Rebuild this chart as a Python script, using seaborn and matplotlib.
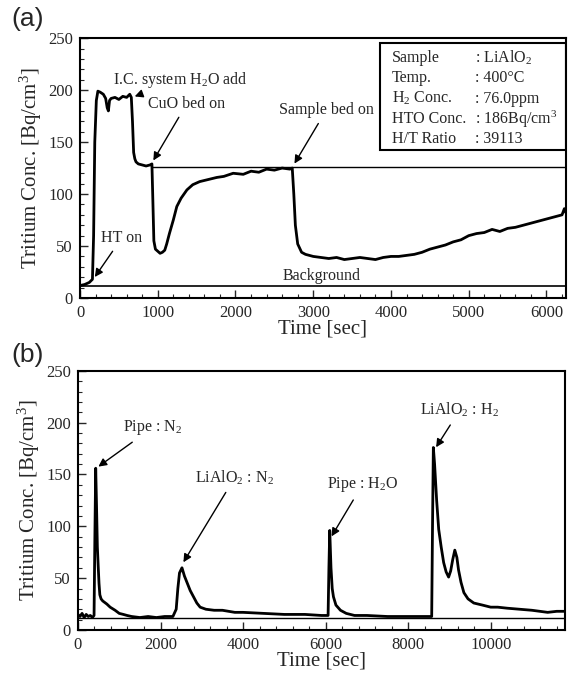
import matplotlib
matplotlib.use('Agg')
import matplotlib.pyplot as plt
from matplotlib.patches import Rectangle
from matplotlib.ticker import MultipleLocator
import seaborn as sns

# (a) tritium trace during the LiAlO2 run
time_a = [0, 60, 120, 160, 175, 190, 210, 230, 260, 300, 330, 350, 365, 380, 400,
          450, 500, 550, 600, 640, 660, 675, 690, 705, 720, 750, 800, 850, 900, 925,
          935, 950, 970, 1000, 1030, 1060, 1090, 1115, 1150, 1200, 1245, 1300, 1375,
          1450, 1540, 1650, 1760, 1850, 1970, 2100, 2200, 2300, 2400, 2500, 2600,
          2700, 2730, 2750, 2770, 2800, 2850, 2900, 3000, 3100, 3200, 3300, 3400,
          3500, 3600, 3700, 3800, 3900, 4000, 4100, 4200, 4300, 4400, 4500, 4600,
          4700, 4800, 4900, 5000, 5100, 5200, 5300, 5400, 5500, 5600, 5700, 5800,
          5900, 6000, 6100, 6200, 6230, 6250]
conc_a = [12, 13, 15, 18, 60, 150, 190, 199, 198, 196, 192, 183, 180, 190, 192,
          193, 191, 194, 193, 196, 193, 170, 140, 134, 131, 129, 128, 127, 128, 129,
          100, 55, 47, 45, 43, 44, 46, 52, 62, 75, 88, 96, 104, 109, 112, 114, 116,
          117, 120, 119, 122, 121, 124, 123, 125, 124, 125, 100, 70, 52, 44, 42, 40,
          39, 38, 39, 37, 38, 39, 38, 37, 39, 40, 40, 41, 42, 44, 47, 49, 51, 54, 56,
          60, 62, 63, 66, 64, 67, 68, 70, 72, 74, 76, 78, 80, 86, 82]
ref_a = 126
background_a = 12

# (b) release peaks
time_b = [0, 50, 100, 150, 200, 250, 300, 350, 390, 410, 430, 450, 470, 490, 510,
          530, 560, 600, 700, 780, 900, 1000, 1100, 1190, 1300, 1500, 1700, 1900,
          2100, 2300, 2380, 2420, 2460, 2520, 2580, 2650, 2720, 2800, 2880, 2960,
          3100, 3300, 3500, 3800, 4000, 4500, 5000, 5500, 5900, 6060, 6080, 6100,
          6130, 6160, 6190, 6250, 6360, 6500, 6700, 7000, 7500, 8000, 8400, 8570,
          8590, 8610, 8640, 8690, 8740, 8800, 8860, 8920, 8980, 9030, 9080, 9130,
          9180, 9220, 9280, 9350, 9450, 9590, 9800, 10000, 10170, 10400, 10700,
          11000, 11380, 11600, 11770]
conc_b = [15, 13, 16, 12, 15, 13, 14, 12, 14, 90, 156, 120, 80, 62, 45, 34, 30,
          28, 25, 22, 19, 16, 15, 14, 13, 12, 13, 12, 13, 13, 20, 40, 55, 60, 52,
          45, 38, 32, 26, 22, 20, 19, 19, 17, 17, 16, 15, 15, 14, 14, 60, 96, 60,
          40, 32, 24, 19, 16, 14, 14, 13, 13, 13, 13, 100, 176, 160, 125, 97, 80,
          65, 56, 51, 57, 68, 77, 70, 58, 46, 36, 30, 26, 24, 22, 22, 21, 20, 19,
          17, 18, 18]
background_b = 12

box_keys = ['Sample', 'Temp.', 'H$_2$ Conc.', 'HTO Conc.', 'H/T Ratio']
box_vals = [': LiAlO$_2$', ': 400°C', ': 76.0ppm', ': 186Bq/cm$^3$', ': 39113']

sns.set_style('ticks')
plt.rcParams['font.family'] = ['Liberation Serif', 'DejaVu Serif']
plt.rcParams['mathtext.fontset'] = 'custom'
plt.rcParams['mathtext.rm'] = 'Liberation Serif'
plt.rcParams['mathtext.it'] = 'Liberation Serif:italic'
plt.rcParams['xtick.direction'] = 'in'
plt.rcParams['ytick.direction'] = 'in'

fig = plt.figure(figsize=(5.69, 6.75), dpi=100)
ax_a = fig.add_axes([0.1406, 0.5585, 0.854, 0.385])
ax_b = fig.add_axes([0.137, 0.0667, 0.856, 0.384])

FS = 12
LAB = 15
ANN = 11.5
arrow = dict(arrowstyle='-|>', color='black', lw=1.0, mutation_scale=12)


def style_axes(ax, xmax, xmajor, xminor):
    ax.set_xlim(0, xmax)
    ax.set_ylim(0, 250)
    ax.xaxis.set_major_locator(MultipleLocator(xmajor))
    ax.xaxis.set_minor_locator(MultipleLocator(xminor))
    ax.yaxis.set_major_locator(MultipleLocator(50))
    ax.yaxis.set_minor_locator(MultipleLocator(10))
    ax.tick_params(which='major', length=6, width=1.0, labelsize=FS, pad=5)
    ax.tick_params(which='minor', length=3, width=0.8)
    for s in ax.spines.values():
        s.set_linewidth(1.5)
        s.set_color('black')
    ax.set_xlabel('Time [sec]', fontsize=LAB, labelpad=-1)
    ax.set_ylabel('Tritium Conc. [Bq/cm$^3$]', fontsize=LAB, labelpad=3)


# panel (a)
sns.lineplot(x=time_a, y=conc_a, ax=ax_a, color='black', lw=2.0, sort=False,
             estimator=None)
ax_a.hlines(ref_a, 925, 6250, color='black', lw=1.0)
ax_a.axhline(background_a, color='black', lw=1.2)
style_axes(ax_a, 6250, 1000, 200)

ax_a.annotate('HT on', xy=(170, 18), xytext=(540, 58), fontsize=ANN,
              ha='center', va='center', arrowprops=arrow)
ax_a.annotate('I.C. system H$_2$O add', xy=(670, 193), xytext=(1285, 210),
              fontsize=ANN, ha='center', va='center', arrowprops=arrow)
ax_a.annotate('CuO bed on', xy=(925, 130), xytext=(1375, 187), fontsize=ANN,
              ha='center', va='center', arrowprops=arrow)
ax_a.annotate('Sample bed on', xy=(2740, 127), xytext=(3170, 181), fontsize=ANN,
              ha='center', va='center', arrowprops=arrow)
ax_a.text(2610, 21, 'Background', fontsize=ANN, ha='left', va='center')

ax_a.add_patch(Rectangle((0.617, 0.57), 0.383, 0.41, transform=ax_a.transAxes,
                         fill=False, ec='black', lw=1.5))
for i, (k, v) in enumerate(zip(box_keys, box_vals)):
    yy = 0.923 - i * 0.078
    ax_a.text(0.642, yy, k, transform=ax_a.transAxes, fontsize=ANN, va='center')
    ax_a.text(0.813, yy, v, transform=ax_a.transAxes, fontsize=ANN, va='center')

# panel (b)
sns.lineplot(x=time_b, y=conc_b, ax=ax_b, color='black', lw=2.0, sort=False,
             estimator=None)
ax_b.axhline(background_b, color='black', lw=1.0)
style_axes(ax_b, 11800, 2000, 400)

ax_b.annotate('Pipe : N$_2$', xy=(440, 156), xytext=(1800, 195), fontsize=ANN,
              ha='center', va='center', arrowprops=arrow)
ax_b.annotate('LiAlO$_2$ : N$_2$', xy=(2520, 63), xytext=(3800, 147),
              fontsize=ANN, ha='center', va='center', arrowprops=arrow)
ax_b.annotate('Pipe : H$_2$O', xy=(6110, 88), xytext=(6890, 140), fontsize=ANN,
              ha='center', va='center', arrowprops=arrow)
ax_b.annotate('LiAlO$_2$ : H$_2$', xy=(8640, 174), xytext=(9250, 212),
              fontsize=ANN, ha='center', va='center', arrowprops=arrow)

fig.text(0.02, 0.972, '(a)', fontsize=19, family='Liberation Sans', va='center')
fig.text(0.02, 0.474, '(b)', fontsize=19, family='Liberation Sans', va='center')

fig.savefig('out.png', dpi=100)
